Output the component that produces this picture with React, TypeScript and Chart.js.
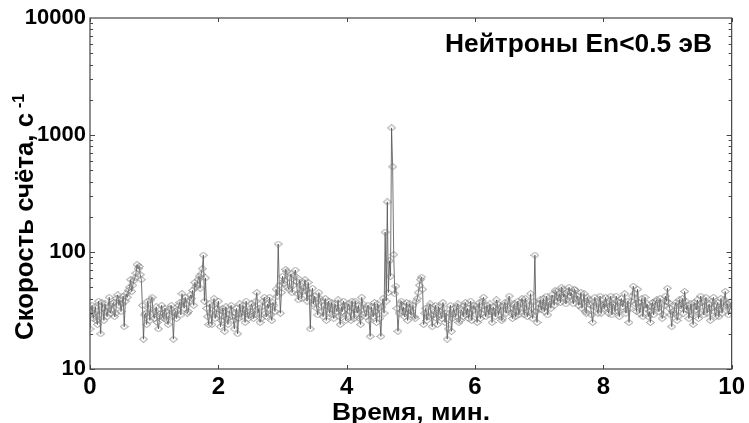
import React, { useEffect, useRef } from 'react';
import { Chart, registerables } from 'chart.js';

Chart.register(...registerables);

// Count rate samples (s^-1). "Even" arrays: samples at even seconds, "odd" arrays: samples at odd seconds,
// grouped by 2-minute blocks.
const evenCounts0to2 = [
  22, 35, 30, 26, 38, 20, 33, 36, 28,
  41, 32, 37, 30, 43, 39, 36, 23, 44, 47, 58, 52, 60, 78,
  75, 58, 18, 30, 38, 26, 41,
  27, 34, 22, 30, 28, 33, 26, 29, 35, 18, 31, 32, 37, 44, 33,
  36, 31, 43, 47, 55, 52, 62, 65,
  94, 60, 28, 36, 24, 40, 30,
];
const oddCounts0to2 = [
  31, 27, 34, 24, 29, 37, 26, 31, 34,
  30, 36, 28, 40, 35, 31, 42, 38, 41, 50, 46, 57, 66, 72,
  64, 35, 29, 24, 33, 39, 30,
  31, 25, 28, 35, 27, 31, 24, 33, 28, 30, 27, 35, 29, 38, 41,
  30, 38, 40, 35, 50, 58, 49, 72,
  38, 33, 24, 30, 35, 27, 33,
];
const evenCounts2to4 = [
  38, 23, 33, 21, 27, 29, 35, 26, 30, 20, 36, 28, 32, 38, 27,
  31, 34, 29, 45, 33, 27, 38, 30, 36, 41, 26, 35, 48,
  117, 30,
  62, 57, 68, 48, 65, 52, 70, 44, 58, 40, 50, 47, 55, 22, 49,
  42, 33, 45, 38, 28, 40, 34, 30, 37, 27, 33, 39, 24, 31, 35,
];
const oddCounts2to4 = [
  29, 26, 31, 34, 24, 32, 28, 22, 33, 27, 30, 35, 25, 31, 29,
  36, 27, 38, 30, 25, 34, 41, 28, 33, 29, 37, 31, 42,
  52, 45,
  54, 71, 50, 60, 45, 63, 56, 39, 52, 46, 58, 38, 44, 41, 36,
  37, 29, 40, 31, 35, 26, 38, 33, 29, 36, 31, 28, 34, 38, 26,
];
const evenCounts4to6 = [
  29, 36, 26, 33, 38, 30, 27, 41, 32, 28, 35, 19, 30, 37, 25, 33, 19, 40,
  148, 268, 84, 1150, 95, 51, 21, 36,
  31, 28, 37, 33, 29, 35, 27, 40, 52, 61, 24, 33, 28, 36,
  23, 31, 27, 34, 29, 37, 25, 18, 30, 21, 33, 28, 36, 26, 31, 35, 29, 27, 38, 32,
];
const oddCounts4to6 = [
  34, 31, 38, 27, 32, 35, 24, 36, 30, 33, 26, 34, 28, 31, 36, 27, 34, 30,
  38, 45, 62, 535, 44, 33, 30, 38,
  34, 30, 26, 36, 31, 28, 38, 45, 58, 48, 30, 26, 34, 29,
  29, 35, 24, 31, 27, 33, 30, 22, 35, 27, 30, 34, 25, 32, 28, 37, 33, 30, 26, 35,
];
const evenCounts6to8 = [
  34, 25, 37, 30, 41, 28, 33, 36, 25, 31, 39, 29, 34, 27, 37, 32, 42, 30, 35, 28, 38, 33, 40, 29, 36, 31, 44, 27, 94, 25,
  36, 32, 40, 34, 29, 38, 43, 35, 46, 41, 37, 48, 44, 39, 50, 45, 36, 47, 42, 38, 33, 44, 30, 39, 35, 25, 41, 33, 37, 30,
];
const oddCounts6to8 = [
  29, 33, 27, 38, 32, 35, 29, 31, 34, 28, 36, 32, 26, 35, 30, 38, 33, 27, 36, 31, 29, 37, 33, 40, 28, 35, 30, 38, 31, 33,
  39, 35, 31, 42, 37, 33, 40, 47, 38, 44, 50, 41, 36, 46, 42, 39, 48, 40, 35, 45, 37, 31, 41, 36, 29, 34, 38, 30, 42, 35,
];
const evenCounts8to10 = [
  36, 41, 33, 38, 29, 35, 42, 31, 37, 34, 44, 32, 25, 38, 51, 36, 48, 30, 40, 35, 33, 28, 25, 37, 34, 39, 31, 36, 29, 42,
  49, 33, 23, 30, 37, 28, 35, 40, 46, 32, 27, 36, 24, 34, 39, 30, 37, 29, 41, 33, 26, 38, 31, 35, 28, 40, 34, 46, 36, 32, 38,
];
const oddCounts8to10 = [
  33, 37, 30, 42, 36, 31, 38, 28, 40, 36, 30, 38, 33, 42, 44, 31, 37, 34, 28, 41, 36, 31, 34, 29, 38, 33, 40, 27, 35, 38,
  37, 29, 31, 35, 26, 39, 33, 30, 38, 35, 31, 29, 37, 32, 27, 42, 34, 38, 30, 36, 33, 41, 28, 37, 32, 30, 39, 35, 29, 34,
];

const evenCounts = [...evenCounts0to2, ...evenCounts2to4, ...evenCounts4to6, ...evenCounts6to8, ...evenCounts8to10];
const oddCounts = [...oddCounts0to2, ...oddCounts2to4, ...oddCounts4to6, ...oddCounts6to8, ...oddCounts8to10];

const SECONDS_PER_MIN = 60;

const xTickValues = [0, 2, 4, 6, 8, 10];
const yTickValues = [10, 100, 1000, 10000];
const annotationText = 'Нейтроны En<0.5 эВ';
const xTitleText = 'Время, мин.';
const yTitleText = 'Скорость счёта, с';
const yTitleSup = '-1';

const FONT = '"Liberation Sans", Arial, sans-serif';

function buildSeries() {
  const pts: { x: number; y: number }[] = [];
  for (let k = 0; k < evenCounts.length; k++) {
    pts.push({ x: (2 * k) / SECONDS_PER_MIN, y: evenCounts[k] });
    if (k < oddCounts.length) pts.push({ x: (2 * k + 1) / SECONDS_PER_MIN, y: oddCounts[k] });
  }
  return pts;
}

function makeDiamond(): HTMLCanvasElement {
  const c = document.createElement('canvas');
  c.width = 9;
  c.height = 7;
  const g = c.getContext('2d')!;
  g.beginPath();
  g.moveTo(0.5, 3.5);
  g.lineTo(4.5, 0.5);
  g.lineTo(8.5, 3.5);
  g.lineTo(4.5, 6.5);
  g.closePath();
  g.strokeStyle = 'rgba(120,120,120,0.8)';
  g.lineWidth = 1;
  g.stroke();
  return c;
}

const decorPlugin = {
  id: 'decor',
  afterDraw(chart: any) {
    const { ctx, chartArea, scales } = chart;
    const { left, right, top, bottom } = chartArea;
    const xs = scales.x;
    const ys = scales.y;
    ctx.save();
    ctx.strokeStyle = '#444';
    ctx.lineWidth = 1.2;
    ctx.strokeRect(left, top, right - left, bottom - top);
    ctx.lineWidth = 1;
    ctx.beginPath();
    for (let d = 10; d < 10000; d *= 10) {
      for (let k = 1; k <= 9; k++) {
        const v = d * k;
        const py = Math.round(ys.getPixelForValue(v)) + 0.5;
        const len = k === 1 ? 5 : 3;
        ctx.moveTo(left, py);
        ctx.lineTo(left + len, py);
        ctx.moveTo(right, py);
        ctx.lineTo(right - len, py);
      }
    }
    for (const v of xTickValues) {
      const px = Math.round(xs.getPixelForValue(v)) + 0.5;
      ctx.moveTo(px, top);
      ctx.lineTo(px, top + 4);
      ctx.moveTo(px, bottom);
      ctx.lineTo(px, bottom - 4);
    }
    ctx.stroke();

    ctx.fillStyle = '#000';
    ctx.textBaseline = 'alphabetic';

    ctx.font = `bold 25px ${FONT}`;
    {
      const w = ctx.measureText(annotationText).width;
      const sx = 267 / w;
      ctx.save();
      ctx.translate(712, 52);
      ctx.scale(sx, 1);
      ctx.textAlign = 'right';
      ctx.fillText(annotationText, 0, 0);
      ctx.restore();
    }

    ctx.font = `bold 24px ${FONT}`;
    {
      const w = ctx.measureText(xTitleText).width;
      const sx = 158 / w;
      ctx.save();
      ctx.translate(411, 420);
      ctx.scale(sx, 1);
      ctx.textAlign = 'center';
      ctx.fillText(xTitleText, 0, 0);
      ctx.restore();
    }

    ctx.save();
    ctx.translate(33, 340);
    ctx.rotate(-Math.PI / 2);
    ctx.textAlign = 'left';
    ctx.font = `bold 26px ${FONT}`;
    const wMain = ctx.measureText(yTitleText).width;
    const su = 227 / wMain;
    ctx.save();
    ctx.scale(su, 1);
    ctx.fillText(yTitleText, 0, 0);
    ctx.restore();
    ctx.font = `bold 16px ${FONT}`;
    ctx.save();
    ctx.translate(232, -9);
    ctx.fillText(yTitleSup, 0, 0);
    ctx.restore();
    ctx.restore();

    ctx.restore();
  },
};

export default function App() {
  const canvasRef = useRef<HTMLCanvasElement | null>(null);

  useEffect(() => {
    if (!canvasRef.current) return;
    const diamond = makeDiamond();
    const chart = new Chart(canvasRef.current, {
      type: 'line',
      data: {
        datasets: [
          {
            data: buildSeries(),
            borderColor: '#505050',
            borderWidth: 0.8,
            pointStyle: diamond as any,
            pointRadius: 4,
            tension: 0,
            fill: false,
          },
        ],
      },
      options: {
        responsive: false,
        animation: false,
        events: [],
        layout: {
          padding: { top: 18, right: 12, left: 0, bottom: 0 },
          autoPadding: false,
        } as any,
        plugins: {
          legend: { display: false },
          tooltip: { enabled: false },
          title: { display: false },
        },
        scales: {
          x: {
            type: 'linear',
            min: 0,
            max: 10,
            grid: { display: false, drawTicks: false },
            border: { display: false },
            ticks: {
              stepSize: 2,
              autoSkip: false,
              maxRotation: 0,
              padding: 4,
              color: '#000',
              font: { family: FONT, size: 24, weight: 'bold' },
              callback: (v: any) => (xTickValues.includes(Number(v)) ? String(v) : ''),
            },
            afterFit: (s: any) => {
              s.height = 54;
            },
          },
          y: {
            type: 'logarithmic',
            min: 10,
            max: 10000,
            grid: { display: false, drawTicks: false },
            border: { display: false },
            ticks: {
              autoSkip: false,
              padding: 4,
              color: '#000',
              font: { family: FONT, size: 22, weight: 'bold' },
              callback: (v: any) => (yTickValues.includes(Number(v)) ? String(v) : ''),
            },
            afterFit: (s: any) => {
              s.width = 90;
            },
          },
        },
      },
      plugins: [decorPlugin],
    });
    return () => chart.destroy();
  }, []);

  return (
    <div style={{ position: 'fixed', left: 0, top: 0, width: 749, height: 423, background: '#fff' }}>
      <canvas ref={canvasRef} width={749} height={423} />
    </div>
  );
}
